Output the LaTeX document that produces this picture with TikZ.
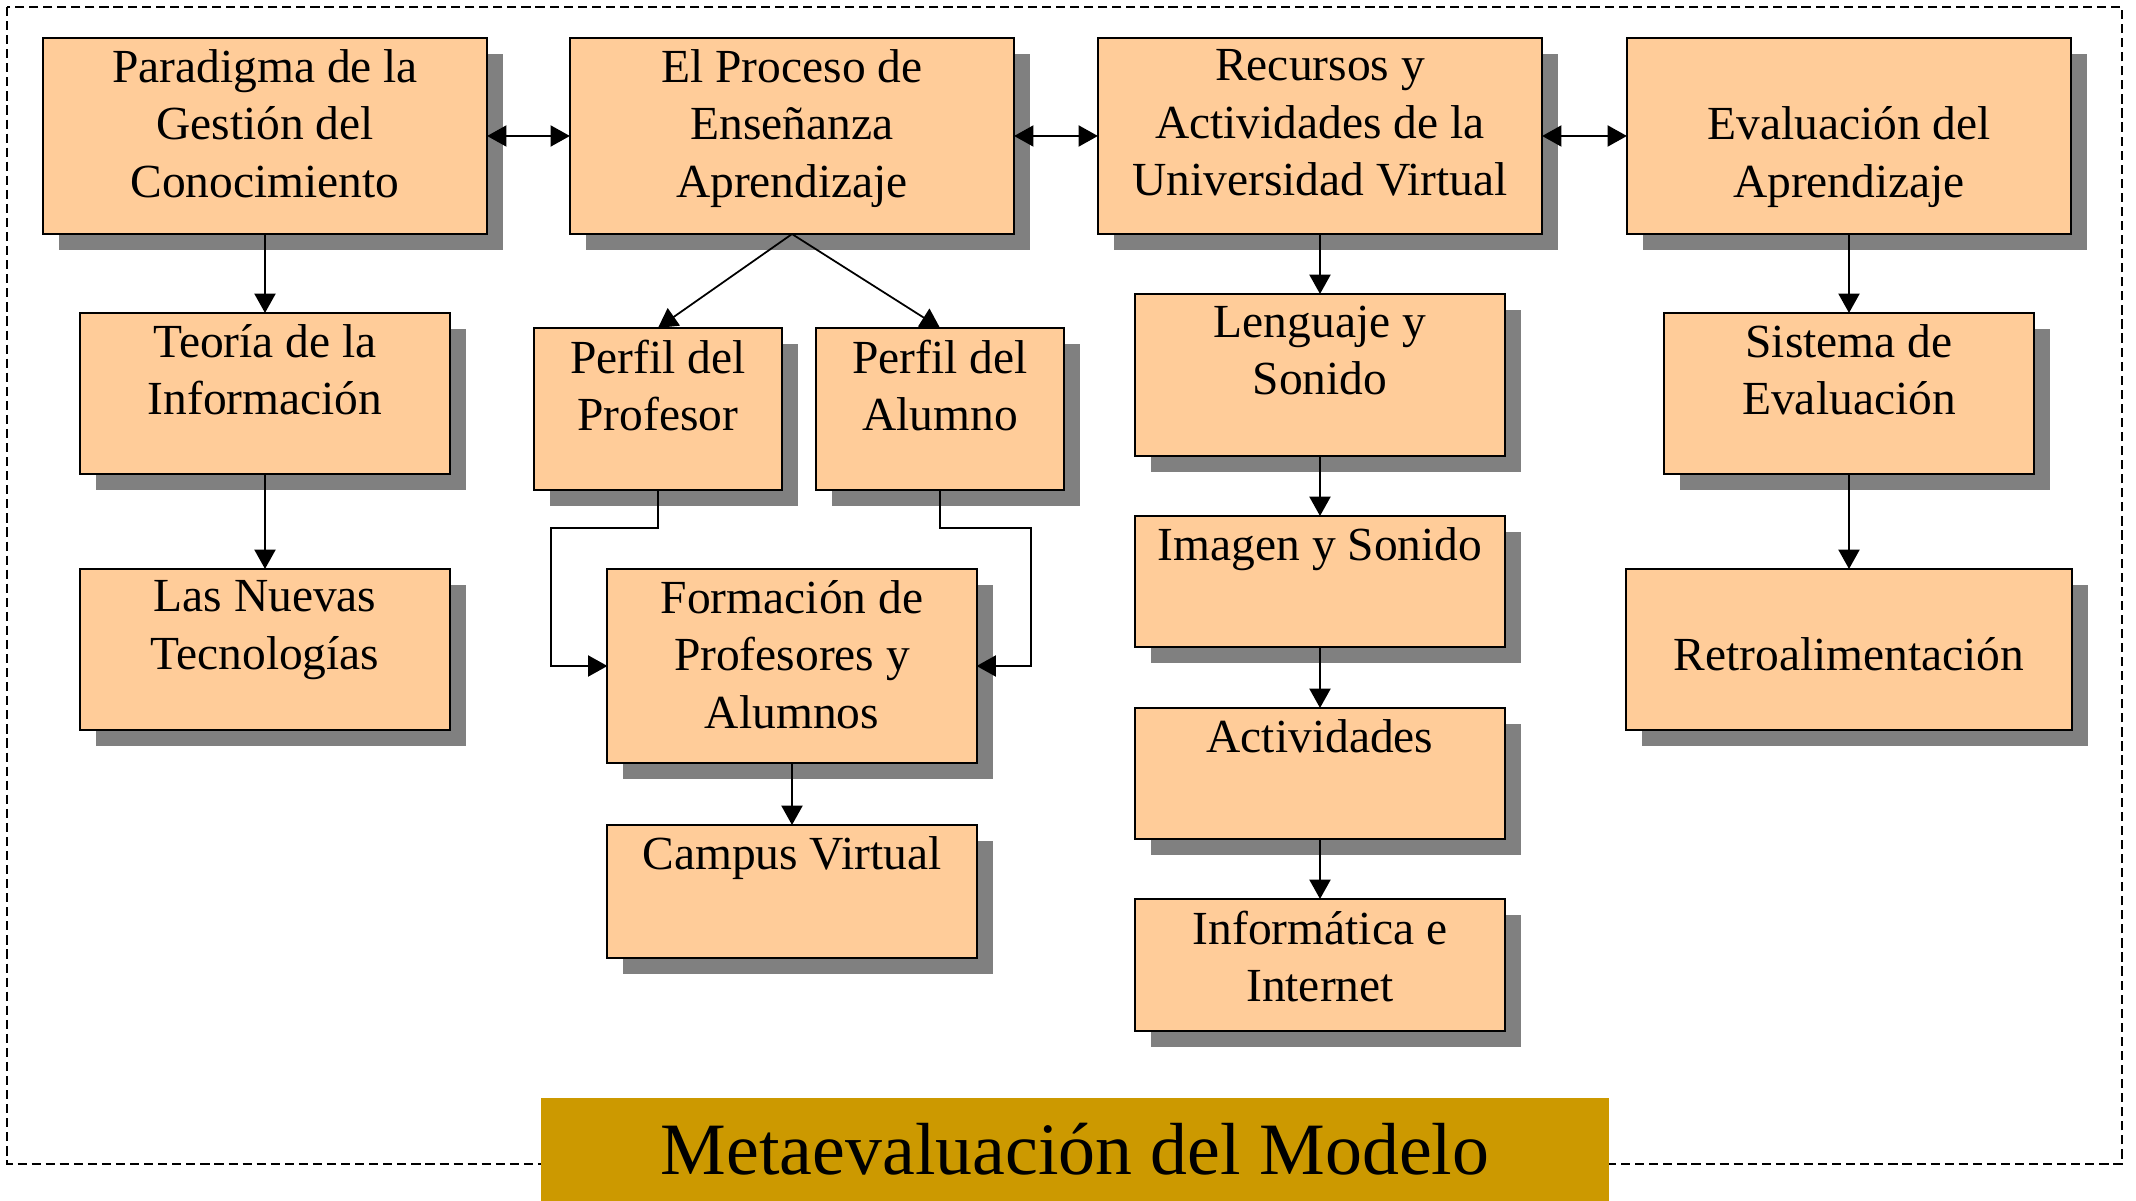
\documentclass[tikz,border=0pt]{standalone}
\usepackage{fontspec}
\setmainfont{Liberation Serif}
\usepackage{tikz}
\usetikzlibrary{arrows.meta, shadows, positioning}
\definecolor{durazno}{HTML}{FFCC99}
\definecolor{sombra}{HTML}{808080}
\definecolor{mostaza}{HTML}{CC9900}

\begin{document}
\begin{tikzpicture}[x=0.01cm, y=-0.01cm, >={Triangle[length=5.5pt,width=6pt]},
        caja/.style={draw, line width=0.6pt, fill=durazno, inner sep=0pt, outer sep=0pt,
            drop shadow={shadow xshift=0.16cm, shadow yshift=-0.16cm, fill=sombra, opacity=1}},
        lbl/.style={anchor=north, align=center, inner sep=0pt, yshift=-0.11cm,
            font=\fontsize{13.5}{16.3}\selectfont},
        bajo/.style={yshift=-16.3pt},
        flecha/.style={->, line width=0.5pt},
        doble/.style={<->, line width=0.5pt}]

    \useasboundingbox (0,0) rectangle (2136,1201);
    \draw[line width=0.8pt, dash pattern=on 2.6pt off 1.4pt] (7,7) rectangle (2122,1164);

    % fila superior
    \node[caja, minimum width=4.44cm, minimum height=1.96cm,
        label={[lbl]north:{Paradigma de la\\Gestión del\\Conocimiento}}] (paradigma) at (265,136) {};
    \node[caja, minimum width=4.44cm, minimum height=1.96cm,
        label={[lbl]north:{El Proceso de\\Enseñanza\\Aprendizaje}}] (proceso) at (792,136) {};
    \node[caja, minimum width=4.44cm, minimum height=1.96cm,
        label={[lbl]north:{Recursos y\\Actividades de la\\Universidad Virtual}}] (recursos) at (1320,136) {};
    \node[caja, minimum width=4.44cm, minimum height=1.96cm,
        label={[lbl,bajo]north:{Evaluación del\\Aprendizaje}}] (evaluacion) at (1849,136) {};

    % columna 1
    \node[caja, minimum width=3.70cm, minimum height=1.61cm,
        label={[lbl]north:{Teoría de la\\Información}}] (teoria) at (265,393.5) {};
    \node[caja, minimum width=3.70cm, minimum height=1.61cm,
        label={[lbl]north:{Las Nuevas\\Tecnologías}}] (nuevas) at (265,649.5) {};

    % columna 2
    \node[caja, minimum width=2.48cm, minimum height=1.62cm,
        label={[lbl]north:{Perfil del\\Profesor}}] (pprofesor) at (658,409) {};
    \node[caja, minimum width=2.48cm, minimum height=1.62cm,
        label={[lbl]north:{Perfil del\\Alumno}}] (palumno) at (940,409) {};
    \node[caja, minimum width=3.69cm, minimum height=1.94cm,
        label={[lbl]north:{Formación de\\Profesores y\\Alumnos}}] (formacion) at (792,666) {};
    \node[caja, minimum width=3.69cm, minimum height=1.33cm,
        label={[lbl]north:{Campus Virtual}}] (campus) at (792,891.5) {};

    % columna 3
    \node[caja, minimum width=3.69cm, minimum height=1.62cm,
        label={[lbl]north:{Lenguaje y\\Sonido}}] (lenguaje) at (1320,375) {};
    \node[caja, minimum width=3.69cm, minimum height=1.31cm,
        label={[lbl]north:{Imagen y Sonido}}] (imagen) at (1320,581.5) {};
    \node[caja, minimum width=3.69cm, minimum height=1.31cm,
        label={[lbl]north:{Actividades}}] (actividades) at (1320,773.5) {};
    \node[caja, minimum width=3.69cm, minimum height=1.32cm,
        label={[lbl]north:{Informática e\\Internet}}] (informatica) at (1320,965) {};

    % columna 4
    \node[caja, minimum width=3.69cm, minimum height=1.61cm,
        label={[lbl]north:{Sistema de\\Evaluación}}] (sistema) at (1849,393.5) {};
    \node[caja, minimum width=4.45cm, minimum height=1.61cm,
        label={[lbl,bajo]north:{Retroalimentación}}] (retro) at (1849,649.5) {};

    \node[fill=mostaza, inner sep=0pt, minimum width=10.68cm, minimum height=1.03cm,
        font=\fontsize{21}{25}\selectfont] (meta) at (1075,1149.5) {Metaevaluación del Modelo};

    % conexiones
    \draw[doble] (paradigma.east) -- (proceso.west);
    \draw[doble] (proceso.east) -- (recursos.west);
    \draw[doble] (recursos.east) -- (evaluacion.west);

    \draw[flecha] (paradigma.south) -- (teoria.north);
    \draw[flecha] (teoria.south) -- (nuevas.north);

    \draw[flecha] (proceso.south) -- (pprofesor.north);
    \draw[flecha] (proceso.south) -- (palumno.north);
    \draw[flecha] (pprofesor.south) -- ++(0,38) -| ([xshift=-0.56cm]formacion.west) -- (formacion.west);
    \draw[flecha] (palumno.south) -- ++(0,38) -| ([xshift=0.54cm]formacion.east) -- (formacion.east);
    \draw[flecha] (formacion.south) -- (campus.north);

    \draw[flecha] (recursos.south) -- (lenguaje.north);
    \draw[flecha] (lenguaje.south) -- (imagen.north);
    \draw[flecha] (imagen.south) -- (actividades.north);
    \draw[flecha] (actividades.south) -- (informatica.north);

    \draw[flecha] (evaluacion.south) -- (sistema.north);
    \draw[flecha] (sistema.south) -- (retro.north);
\end{tikzpicture}
\end{document}
